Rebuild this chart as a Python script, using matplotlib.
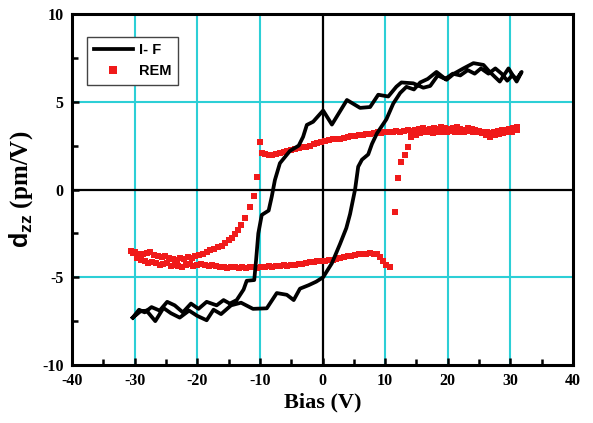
import matplotlib
matplotlib.use("Agg")
import matplotlib.pyplot as plt
from matplotlib.ticker import MultipleLocator

plt.rcParams['axes.unicode_minus'] = False
plt.rcParams['mathtext.fontset'] = 'custom'
plt.rcParams['mathtext.bf'] = 'Liberation Sans:bold'
plt.rcParams['mathtext.rm'] = 'Liberation Sans:bold'

# ---------------- data ----------------
# I-F loop, forward sweep
if_fx = [-30.3, -29.1, -28.1, -26.7, -25.4, -24.2, -22.8, -21.3, -20.0, -18.5, -17.4, -16.2,
         -14.6, -13.0, -11.1, -8.9, -7.3, -5.7, -4.6, -3.6, -2.2, -1.0, 0.1, 1.5, 2.8, 3.8,
         4.4, 5.2, 5.7, 6.3, 7.3, 7.9, 8.7, 10.2, 11.3, 12.4, 13.4, 14.6, 15.6, 16.8, 18.2,
         19.8, 21.0, 22.5, 24.1, 25.7, 26.7, 28.3, 29.7, 31.0, 31.8]
if_fy = [-7.3, -6.95, -6.9, -7.5, -6.75, -7.05, -7.3, -6.9, -7.2, -7.45, -6.85, -7.1,
         -6.6, -6.45, -6.8, -6.77, -5.9, -6.0, -6.3, -5.65, -5.45, -5.25, -5.0, -4.2, -3.1, -2.2,
         -1.4, 0.0, 1.3, 1.7, 2.0, 2.6, 3.2, 4.0, 4.9, 5.5, 5.85, 5.7, 6.1, 6.3, 6.7,
         6.25, 6.6, 6.9, 7.2, 7.1, 6.7, 6.15, 6.9, 6.15, 6.7]
# I-F loop, return sweep
if_rx = [31.8, 31.0, 30.3, 29.5, 28.6, 27.6, 26.5, 25.3, 24.3, 23.2, 22.0, 20.8, 19.6, 18.4,
         17.2, 16.1, 14.5, 12.6, 11.8, 10.5, 8.9, 7.6, 6.0, 3.9, 1.5, 0.1, -1.5, -2.5, -3.1,
         -3.8, -5.2, -6.8, -7.6, -8.1, -8.6, -9.7, -10.25, -10.6, -10.9, -12.1, -12.6, -13.7,
         -14.8, -15.8, -16.9, -18.5, -19.8, -21.0, -22.3, -23.6, -24.8, -26.0, -27.3, -28.4,
         -29.3, -30.3]
if_ry = [6.7, 6.3, 6.5, 6.2, 6.6, 6.9, 6.6, 6.9, 6.6, 6.8, 6.5, 6.6, 6.3, 6.5,
         5.9, 5.8, 6.05, 6.1, 5.86, 5.3, 5.4, 4.7, 4.65, 5.1, 3.7, 4.5, 3.86, 3.68, 3.0,
         2.5, 2.2, 1.5, 0.54, -0.4, -1.2, -1.45, -2.5, -4.0, -5.16, -5.2, -5.7, -6.3,
         -6.5, -6.3, -6.6, -6.4, -6.8, -6.5, -7.0, -6.6, -6.4, -6.9, -6.7, -7.0,
         -6.85, -7.3]

# REM loop: upper branch (forward)
rem_ux = [-10.0, -9.7, -9.2, -8.6, -8.0, -7.4, -6.8, -6.2, -5.6, -5.0, -4.4, -3.8, -3.2,
          -2.6, -2.0, -1.4, -0.8, -0.2, 0.4, 1.0, 1.6, 2.2, 2.8, 3.4, 4.0, 4.6, 5.2, 5.8,
          6.4, 7.0, 7.6, 8.2, 8.8, 9.4, 10.0, 10.6, 11.2, 11.8, 12.4, 13.0, 13.6, 14.2,
          14.8, 15.4, 16.0, 16.6, 17.2, 17.8, 18.4, 19.0, 19.6, 20.2, 20.8, 21.4, 22.0,
          22.6, 23.2, 23.8, 24.4, 25.0, 25.6, 26.2, 26.8, 27.4, 28.0, 28.6, 29.2, 29.8,
          30.4, 31.0]
rem_uy = [2.7, 2.1, 2.0, 1.95, 1.95, 2.05, 2.1, 2.15, 2.2, 2.25, 2.3, 2.35, 2.4,
          2.45, 2.5, 2.6, 2.65, 2.7, 2.75, 2.8, 2.85, 2.9, 2.9, 2.95, 3.0, 3.05, 3.05, 3.1,
          3.1, 3.15, 3.15, 3.2, 3.25, 3.2, 3.25, 3.3, 3.25, 3.35, 3.3, 3.35, 3.4, 3.35,
          3.4, 3.45, 3.5, 3.4, 3.45, 3.5, 3.45, 3.55, 3.5, 3.45, 3.5, 3.55, 3.45,
          3.4, 3.5, 3.45, 3.4, 3.35, 3.3, 3.25, 3.2, 3.3, 3.35, 3.4, 3.4, 3.45,
          3.5, 3.55]
# REM loop: return from +31 and drop near +12
rem_rx = [31.0, 30.3, 29.6, 28.9, 28.2, 27.5, 26.8, 26.1, 25.4, 24.7, 24.0, 23.3, 22.6,
          21.9, 21.2, 20.5, 19.8, 19.1, 18.4, 17.7, 17.0, 16.3, 15.6, 14.9, 14.2, 13.7,
          13.2, 12.6, 12.0, 11.5]
rem_ry = [3.4, 3.3, 3.25, 3.2, 3.15, 3.1, 3.0, 3.1, 3.2, 3.25, 3.3, 3.35, 3.3,
          3.25, 3.3, 3.35, 3.3, 3.25, 3.3, 3.2, 3.25, 3.3, 3.2, 3.1, 3.0, 2.45,
          1.97, 1.58, 0.64, -1.27]
# REM loop: lower branch (+11 -> -30)
rem_lx = [10.8, 10.2, 9.7, 9.2, 8.7, 8.2, 7.6, 7.0, 6.4, 5.8, 5.2, 4.6, 4.0, 3.4, 2.8,
          2.2, 1.6, 1.0, 0.4, -0.2, -0.8, -1.4, -2.0, -2.6, -3.2, -3.8, -4.4, -5.0, -5.6,
          -6.2, -6.8, -7.4, -8.0, -8.6, -9.2, -9.8, -10.4, -11.0, -11.6, -12.2, -12.8,
          -13.4, -14.0, -14.6, -15.2, -15.8, -16.4, -17.0, -17.6, -18.2, -18.8, -19.4,
          -20.0, -20.6, -21.2, -21.8, -22.4, -23.0, -23.6, -24.2, -24.8, -25.4, -26.0,
          -26.6, -27.2, -27.8, -28.4, -29.0, -29.6, -30.2]
rem_ly = [-4.4, -4.3, -4.1, -3.85, -3.7, -3.65, -3.6, -3.65, -3.7, -3.7, -3.75, -3.8, -3.8,
          -3.85, -3.9, -3.95, -4.0, -4.0, -4.05, -4.1, -4.1, -4.15, -4.15, -4.2, -4.25,
          -4.25, -4.3, -4.3, -4.35, -4.3, -4.35, -4.35, -4.4, -4.35, -4.4, -4.4, -4.45,
          -4.4, -4.4, -4.45, -4.4, -4.45, -4.4, -4.4, -4.45, -4.4, -4.4, -4.35, -4.3,
          -4.35, -4.3, -4.25, -4.3, -4.35, -4.25, -4.3, -4.4, -4.35, -4.3, -4.35, -4.2,
          -4.25, -4.3, -4.2, -4.15, -4.2, -4.1, -4.0, -3.9, -3.6]
# REM loop: rising branch (-30 -> -10)
rem_fx = [-30.5, -29.9, -29.3, -28.7, -28.1, -27.5, -26.9, -26.3, -25.7, -25.1, -24.5,
          -23.9, -23.3, -22.7, -22.1, -21.5, -20.9, -20.3, -19.7, -19.1, -18.5, -17.9,
          -17.3, -16.7, -16.1, -15.5, -15.0, -14.5, -14.0, -13.5, -13.0, -12.4, -11.6,
          -10.9, -10.4]
rem_fy = [-3.5, -3.55, -3.65, -3.7, -3.6, -3.55, -3.75, -3.8, -3.85, -3.8, -3.9,
          -3.95, -4.0, -3.9, -3.95, -3.85, -3.9, -3.8, -3.75, -3.65, -3.55, -3.45,
          -3.4, -3.3, -3.2, -3.05, -2.9, -2.75, -2.55, -2.3, -2.05, -1.64, -0.98,
          -0.37, 0.7]

x_ticks = [-40, -30, -20, -10, 0, 10, 20, 30, 40]
y_ticks = [-10, -5, 0, 5, 10]

# ---------------- figure ----------------
fig = plt.figure(figsize=(5.93, 4.23), dpi=100)
ax = fig.add_axes([0.1214, 0.1371, 0.8449, 0.8298])

cyan = '#2ccfd6'
for gx in [-30, -20, -10, 10, 20, 30]:
    ax.axvline(gx, color=cyan, lw=1.5, zorder=1)
for gy in [-5, 5]:
    ax.axhline(gy, color=cyan, lw=1.5, zorder=1)
ax.axvline(0, color='black', lw=1.6, zorder=1)
ax.axhline(0, color='black', lw=1.6, zorder=1)

ax.plot(if_fx + if_rx, if_fy + if_ry, color='black', lw=2.7, zorder=3, label='I- F',
        solid_joinstyle='round')
ms = 4.6
red = '#f01a1a'
ax.plot(rem_ux, rem_uy, 's', color=red, ms=ms, mew=0, zorder=2, label='REM')
for xs, ys in [(rem_rx, rem_ry), (rem_lx, rem_ly), (rem_fx, rem_fy)]:
    ax.plot(xs, ys, 's', color=red, ms=ms, mew=0, zorder=2)

ax.set_xlim(-40, 40)
ax.set_ylim(-10, 10)
ax.set_xticks(x_ticks)
ax.set_yticks(y_ticks)
ax.set_xticklabels([str(t) for t in x_ticks])
ax.set_yticklabels([str(t) for t in y_ticks])
ax.xaxis.set_minor_locator(MultipleLocator(5))
ax.yaxis.set_minor_locator(MultipleLocator(2.5))
ax.tick_params(which='both', direction='in', width=1.8, top=False, right=False)
ax.tick_params(which='major', length=5, pad=6)
ax.tick_params(which='minor', length=4)
for lab in ax.get_xticklabels() + ax.get_yticklabels():
    lab.set_fontfamily('Liberation Serif')
    lab.set_fontweight('bold')
    lab.set_fontsize(11.5)
for sp in ax.spines.values():
    sp.set_linewidth(2.2)

ax.set_xlabel('Bias (V)', fontfamily='Liberation Serif', fontweight='bold',
              fontsize=16, labelpad=2)
ax.set_ylabel(r'$\mathbf{d}_{\mathbf{zz}}$' + ' (pm/V)', fontfamily='Liberation Serif',
              fontweight='bold', fontsize=18, labelpad=5)

leg = ax.legend(loc='upper left', bbox_to_anchor=(0.03, 0.935), borderaxespad=0,
                frameon=True, fancybox=False, edgecolor='#444444', framealpha=1,
                prop={'family': 'Liberation Sans', 'weight': 'bold', 'size': 10.5},
                handlelength=2.7, handletextpad=0.4, borderpad=0.45, labelspacing=0.45,
                numpoints=1, markerscale=1.2)
leg.get_frame().set_linewidth(1.0)

fig.savefig('out.png', dpi=100)
